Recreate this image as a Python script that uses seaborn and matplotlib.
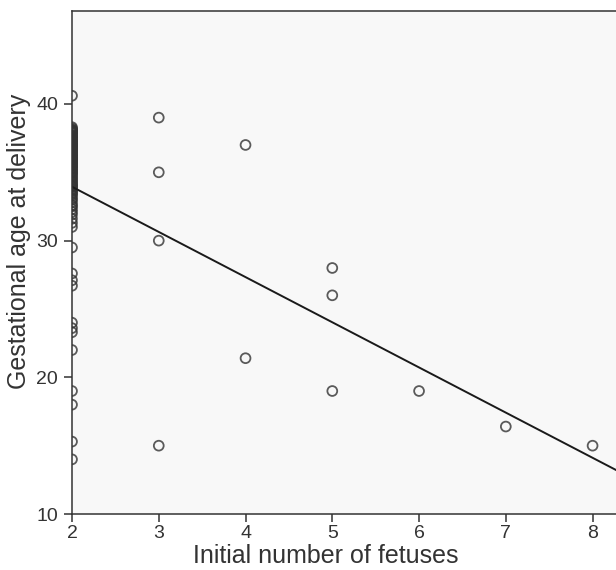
import matplotlib
matplotlib.use("Agg")
import matplotlib.pyplot as plt
import seaborn as sns
import pandas as pd

# Data (gestational age at delivery, weeks)
fetuses_2 = [40.6,
             38.3, 38.2, 38.1, 38.1, 38.0, 38.0, 38.0, 37.9, 37.9, 37.8, 37.7, 37.7,
             37.6, 37.5, 37.5, 37.4, 37.3, 37.3, 37.2, 37.1, 37.1, 37.0, 37.0,
             36.9, 36.9, 36.8, 36.7, 36.7, 36.6, 36.5, 36.5, 36.4, 36.3, 36.3,
             36.2, 36.1, 36.1, 36.0, 36.0, 35.9, 35.9, 35.8, 35.7, 35.7, 35.6,
             35.5, 35.5, 35.4, 35.3, 35.3, 35.2, 35.1, 35.0, 35.0, 34.9, 34.8,
             34.7, 34.6, 34.5, 34.4, 34.3, 34.2, 34.1, 34.0, 34.0, 33.9, 33.8,
             33.7, 33.6, 33.5, 33.4, 33.3, 33.1, 33.0, 32.8, 32.6, 32.5, 32.3,
             32.1, 31.9, 31.6, 31.3, 31.0,
             29.5, 27.6, 27.1, 26.7, 24.0, 23.6, 23.3, 22.0, 19.0, 18.0, 15.3, 14.0]
fetuses_3 = [39.0, 35.0, 30.0, 15.0]
fetuses_4 = [37.0, 21.4]
fetuses_5 = [28.0, 26.0, 19.0]
fetuses_6 = [19.0]
fetuses_7 = [16.4]
fetuses_8 = [15.0]

groups = {2: fetuses_2, 3: fetuses_3, 4: fetuses_4, 5: fetuses_5,
          6: fetuses_6, 7: fetuses_7, 8: fetuses_8}
x_vals, y_vals = [], []
for k, v in groups.items():
    x_vals += [k] * len(v)
    y_vals += v
df = pd.DataFrame({"fetuses": x_vals, "ga": y_vals})

x_ticks = [2, 3, 4, 5, 6, 7, 8]
y_ticks = [10, 20, 30, 40]

sns.set_style("ticks")
plt.rcParams["font.family"] = ["Liberation Sans", "DejaVu Sans"]

fig = plt.figure(figsize=(6.16, 5.70), dpi=100)
ax = fig.add_axes([0.1169, 0.0982, 0.8831, 0.8825])
ax.set_facecolor("#f8f8f8")

sns.regplot(data=df, x="fetuses", y="ga", ax=ax, ci=None, truncate=False,
            scatter_kws=dict(s=50, facecolors="none", edgecolors="#333333",
                             linewidths=1.3),
            line_kws=dict(color="#1a1a1a", linewidth=1.4))

ax.set_xlim(2, 8.27)
ax.set_ylim(10, 46.8)
ax.set_xticks(x_ticks)
ax.set_yticks(y_ticks)
ax.tick_params(axis="both", direction="out", length=6, width=1.1, colors="#333333",
               labelsize=14, labelcolor="#333333")
ax.tick_params(axis="x", pad=2)
ax.tick_params(axis="y", pad=4)
for s in ax.spines.values():
    s.set_color("#333333")
    s.set_linewidth(1.1)
ax.spines["right"].set_visible(False)

ax.set_xlabel("Initial number of fetuses", fontsize=18, color="#333333", va="center")
ax.xaxis.set_label_coords(0.467, -0.0835)
ax.set_ylabel("Gestational age at delivery", fontsize=18, color="#333333", va="center")
ax.yaxis.set_label_coords(-0.0974, 0.543)

fig.savefig("out.png", dpi=100)
